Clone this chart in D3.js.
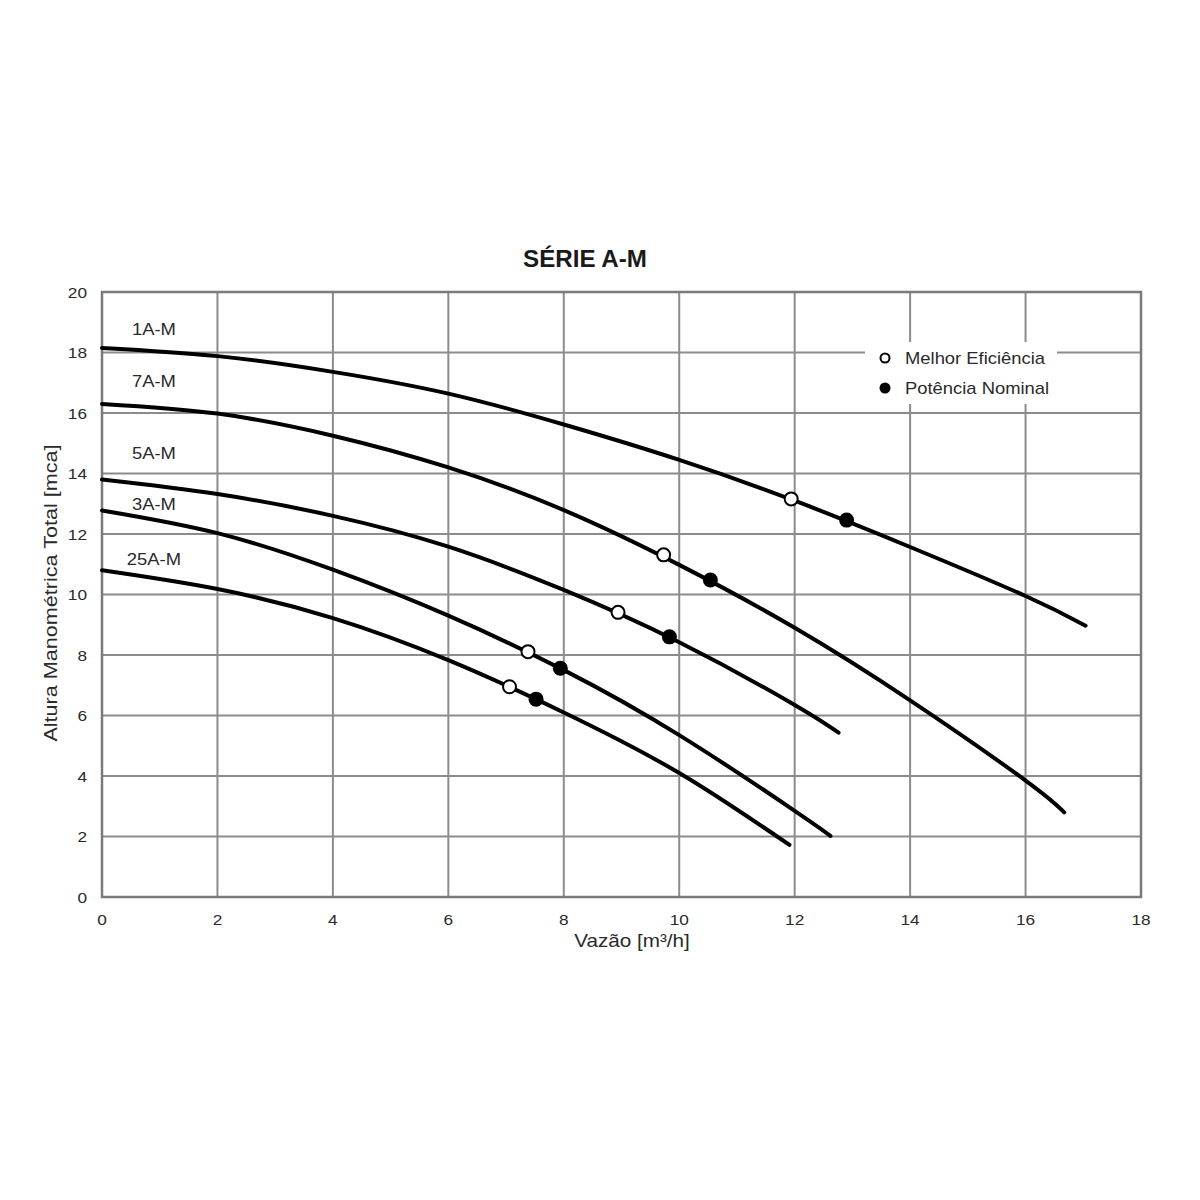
<!DOCTYPE html>
<html>
<head>
<meta charset="utf-8">
<script src="https://cdn.jsdelivr.net/npm/d3@7"></script>
<style>
  html, body { margin: 0; padding: 0; background: #fff; }
  svg { display: block; }
  text { font-family: "Liberation Sans", Arial, sans-serif; fill: #2a2a2a; }
</style>
</head>
<body>
<svg id="chart" width="1200" height="1200"></svg>
<script>
// ---- data ----
const title = "SÉRIE A-M";
const xLabel = "Vazão [m³/h]";
const yLabel = "Altura Manométrica Total  [mca]";
const xTicks = [0, 2, 4, 6, 8, 10, 12, 14, 16, 18];
const yTicks = [0, 2, 4, 6, 8, 10, 12, 14, 16, 18, 20];

const seriesNames = ["1A-M", "7A-M", "5A-M", "3A-M", "25A-M"];
const curve1A = [[0,18.15],[2,17.88],[4,17.36],[6,16.64],[8,15.62],[10,14.45],[12,13.1],[14,11.57],[16,9.95],[17.04,8.97]];
const curve7A = [[0,16.3],[2,15.98],[4,15.25],[6,14.2],[8,12.79],[10,10.98],[12,8.9],[14,6.5],[16,3.85],[16.67,2.8]];
const curve5A = [[0,13.8],[2,13.32],[4,12.6],[6,11.58],[8,10.15],[10,8.42],[12,6.35],[12.76,5.43]];
const curve3A = [[0,12.78],[2,12.03],[4,10.82],[6,9.3],[8,7.5],[10,5.35],[12,2.85],[12.62,2.02]];
const curve25A = [[0,10.8],[2,10.18],[4,9.22],[6,7.83],[8,6.1],[10,4.1],[11.91,1.72]];
const curves = [curve1A, curve7A, curve5A, curve3A, curve25A];

// label anchor (data units) for each series name
const labelX = [0.9, 0.9, 0.9, 0.9, 0.9];
const labelY = [18.78, 17.06, 14.68, 12.99, 11.17];

// operating points
const bestEff = [[11.94,13.16],[9.73,11.31],[8.94,9.41],[7.38,8.11],[7.06,6.95]];
const nominal = [[12.9,12.46],[10.54,10.48],[9.83,8.6],[7.94,7.56],[7.52,6.54]];
const legendLabels = ["Melhor Eficiência", "Potência Nominal"];

// ---- layout ----
const svg = d3.select("#chart");
const L = 102, R = 1141, T = 292, B = 897;
const x = d3.scaleLinear().domain([0, 18]).range([L, R]);
const y = d3.scaleLinear().domain([0, 20]).range([B, T]);
const SX = 1.15;
const gridColor = "#8c8c8c";

function stext(g, px, py, str, opts) {
  const t = g.append("text")
    .attr("transform", `translate(${px},${py}) scale(${opts.sx || SX},1)`)
    .attr("text-anchor", opts.anchor || "start")
    .attr("font-size", opts.size || 15)
    .text(str);
  if (opts.weight) t.attr("font-weight", opts.weight);
  if (opts.fill) t.style("fill", opts.fill);
  return t;
}

// grid
const grid = svg.append("g");
grid.selectAll("line.v").data(xTicks).join("line")
  .attr("x1", d => x(d)).attr("x2", d => x(d))
  .attr("y1", T).attr("y2", B)
  .attr("stroke", gridColor).attr("stroke-width", 2);
grid.selectAll("line.h").data(yTicks).join("line")
  .attr("x1", L).attr("x2", R)
  .attr("y1", d => y(d)).attr("y2", d => y(d))
  .attr("stroke", gridColor).attr("stroke-width", 2);
svg.append("rect").attr("x", L).attr("y", T).attr("width", R - L).attr("height", B - T)
  .attr("fill", "none").attr("stroke", "#7a7a7a").attr("stroke-width", 2.5);

// legend box (covers grid)
svg.append("rect").attr("x", 865).attr("y", 342).attr("width", 192).attr("height", 62).attr("fill", "#fff");

// axis tick labels
const ax = svg.append("g");
xTicks.forEach(v => stext(ax, x(v), 925, String(v), {anchor: "middle", size: 15}));
yTicks.forEach(v => stext(ax, 87, y(v) + 5.5, String(v), {anchor: "end", size: 15}));

// axis titles
stext(svg, 632, 947, xLabel, {anchor: "middle", size: 18});
svg.append("text")
  .attr("transform", `translate(57,593) rotate(-90) scale(1.2,1)`)
  .attr("text-anchor", "middle").attr("font-size", 18)
  .text(yLabel);

// title
stext(svg, 585, 267, title, {anchor: "middle", size: 23, weight: "bold", sx: 1.05, fill: "#1a1a1a"});

// curves
const line = d3.line().x(d => x(d[0])).y(d => y(d[1])).curve(d3.curveNatural);
svg.append("g").selectAll("path").data(curves).join("path")
  .attr("d", line)
  .attr("fill", "none").attr("stroke", "#000").attr("stroke-width", 4)
  .attr("stroke-linecap", "round");

// series labels
seriesNames.forEach((n, i) => stext(svg, x(labelX[i]), y(labelY[i]) + 6, n, {anchor: "middle", size: 16}));

// markers
svg.append("g").selectAll("circle").data(bestEff).join("circle")
  .attr("cx", d => x(d[0])).attr("cy", d => y(d[1])).attr("r", 6.5)
  .attr("fill", "#fff").attr("stroke", "#000").attr("stroke-width", 2);
svg.append("g").selectAll("circle").data(nominal).join("circle")
  .attr("cx", d => x(d[0])).attr("cy", d => y(d[1])).attr("r", 7.5)
  .attr("fill", "#000");

// legend
svg.append("circle").attr("cx", 885).attr("cy", 358).attr("r", 4.5)
  .attr("fill", "#fff").attr("stroke", "#000").attr("stroke-width", 2);
svg.append("circle").attr("cx", 885).attr("cy", 388).attr("r", 5.5).attr("fill", "#000");
stext(svg, 905, 364, legendLabels[0], {size: 16});
stext(svg, 905, 394, legendLabels[1], {size: 16});
</script>
</body>
</html>
